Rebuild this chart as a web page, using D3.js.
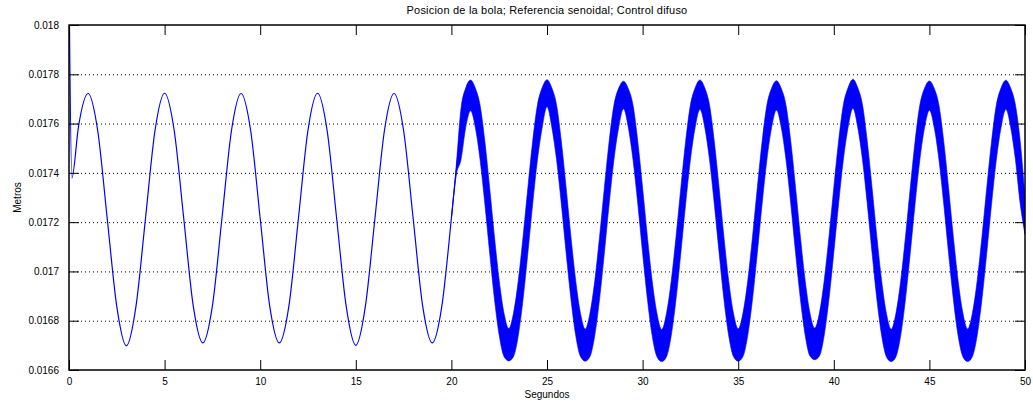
<!DOCTYPE html>
<html>
<head>
<meta charset="utf-8">
<script src="https://cdn.jsdelivr.net/npm/d3@7"></script>
<style>
body { margin: 0; background: #fff; }
svg { display: block; font-family: "Liberation Sans", Arial, sans-serif; }
</style>
</head>
<body>
<svg id="chart" width="1033" height="404"></svg>
<script>
// ----------------------------------------- Data -----------------------------------------

var xTicks = [0, 5, 10, 15, 20, 25, 30, 35, 40, 45, 50];
var yTicks = [0.0166, 0.0168, 0.017, 0.0172, 0.0174, 0.0176, 0.0178, 0.018];
var yTickLabels = ["0.0166", "0.0168", "0.017", "0.0172", "0.0174", "0.0176", "0.0178", "0.018"];

// clean part of the response (0 - 20.5 s)
var cleanTime = [0, 0.15, 0.5, 1, 1.5, 2, 2.5, 3, 3.5, 4, 4.5, 5, 5.5, 6, 6.5, 7, 7.5, 8, 8.5, 9, 9.5,
    10, 10.5, 11, 11.5, 12, 12.5, 13, 13.5, 14, 14.5, 15, 15.5, 16, 16.5, 17, 17.5, 18, 18.5, 19, 19.5, 20, 20.25, 20.5];
var cleanPos = [0.01820, 0.017380, 0.017590, 0.017722, 0.017572, 0.017214, 0.016857, 0.016698, 0.016857, 0.017215,
    0.017573, 0.017723, 0.017573, 0.017216, 0.016859, 0.016710, 0.016860, 0.017216, 0.017573, 0.017722,
    0.017572, 0.017215, 0.016858, 0.016710, 0.016859, 0.017216, 0.017574, 0.017723, 0.017572, 0.017214,
    0.016857, 0.016700, 0.016858, 0.017215, 0.017573, 0.017722, 0.017572, 0.017215, 0.016858, 0.016710,
    0.016859, 0.017216, 0.017410, 0.017570];

// noisy part (20 - 50 s): upper and lower edge of the thick band
var bandTime = [20, 20.25, 20.5, 20.75,
    21, 21.25, 21.5, 21.75, 22, 22.25, 22.5, 22.75, 23, 23.25, 23.5, 23.75, 24, 24.25, 24.5, 24.75,
    25, 25.25, 25.5, 25.75, 26, 26.25, 26.5, 26.75, 27, 27.25, 27.5, 27.75, 28, 28.25, 28.5, 28.75,
    29, 29.25, 29.5, 29.75, 30, 30.25, 30.5, 30.75, 31, 31.25, 31.5, 31.75, 32, 32.25, 32.5, 32.75,
    33, 33.25, 33.5, 33.75, 34, 34.25, 34.5, 34.75, 35, 35.25, 35.5, 35.75, 36, 36.25, 36.5, 36.75,
    37, 37.25, 37.5, 37.75, 38, 38.25, 38.5, 38.75, 39, 39.25, 39.5, 39.75, 40, 40.25, 40.5, 40.75,
    41, 41.25, 41.5, 41.75, 42, 42.25, 42.5, 42.75, 43, 43.25, 43.5, 43.75, 44, 44.25, 44.5, 44.75,
    45, 45.25, 45.5, 45.75, 46, 46.25, 46.5, 46.75, 47, 47.25, 47.5, 47.75, 48, 48.25, 48.5, 48.75,
    49, 49.25, 49.5, 49.75, 50];
var bandUpper = [0.017216, 0.017425, 0.017660, 0.017745,
    0.017777, 0.017744, 0.017674, 0.017527, 0.017340, 0.017142, 0.016963, 0.016831, 0.016768, 0.016832, 0.016964, 0.017143, 0.017341, 0.017528, 0.017676, 0.017746,
    0.017778, 0.017745, 0.017675, 0.017527, 0.017340, 0.017142, 0.016963, 0.016830, 0.016766, 0.016831, 0.016963, 0.017142, 0.017340, 0.017527, 0.017675, 0.017744,
    0.017772, 0.017742, 0.017674, 0.017526, 0.017339, 0.017141, 0.016962, 0.016830, 0.016764, 0.016830, 0.016963, 0.017142, 0.017340, 0.017527, 0.017675, 0.017745,
    0.017777, 0.017745, 0.017675, 0.017527, 0.017340, 0.017142, 0.016963, 0.016831, 0.016767, 0.016831, 0.016963, 0.017142, 0.017340, 0.017527, 0.017675, 0.017744,
    0.017774, 0.017743, 0.017674, 0.017527, 0.017340, 0.017142, 0.016964, 0.016832, 0.016770, 0.016832, 0.016964, 0.017143, 0.017341, 0.017528, 0.017676, 0.017746,
    0.017780, 0.017746, 0.017676, 0.017527, 0.017340, 0.017142, 0.016963, 0.016830, 0.016765, 0.016830, 0.016963, 0.017142, 0.017340, 0.017527, 0.017675, 0.017744,
    0.017773, 0.017743, 0.017674, 0.017527, 0.017340, 0.017142, 0.016963, 0.016831, 0.016766, 0.016831, 0.016963, 0.017142, 0.017340, 0.017527, 0.017675, 0.017745,
    0.017776, 0.017744, 0.017675, 0.017527, 0.017300];
var bandLower = [0.017216, 0.017390, 0.017453, 0.017585,
    0.017652, 0.017585, 0.017453, 0.017274, 0.017076, 0.016889, 0.016741, 0.016655, 0.016637, 0.016655, 0.016741, 0.016889, 0.017076, 0.017274, 0.017453, 0.017585,
    0.017668, 0.017586, 0.017453, 0.017274, 0.017076, 0.016889, 0.016741, 0.016655, 0.016636, 0.016655, 0.016741, 0.016889, 0.017076, 0.017274, 0.017453, 0.017585,
    0.017660, 0.017585, 0.017452, 0.017273, 0.017075, 0.016888, 0.016740, 0.016654, 0.016634, 0.016654, 0.016741, 0.016889, 0.017076, 0.017274, 0.017453, 0.017585,
    0.017658, 0.017585, 0.017453, 0.017274, 0.017076, 0.016889, 0.016741, 0.016655, 0.016636, 0.016655, 0.016741, 0.016889, 0.017076, 0.017274, 0.017453, 0.017585,
    0.017655, 0.017585, 0.017453, 0.017274, 0.017076, 0.016890, 0.016742, 0.016657, 0.016642, 0.016657, 0.016742, 0.016890, 0.017077, 0.017275, 0.017454, 0.017586,
    0.017662, 0.017585, 0.017453, 0.017274, 0.017076, 0.016889, 0.016741, 0.016654, 0.016634, 0.016654, 0.016741, 0.016889, 0.017076, 0.017274, 0.017453, 0.017585,
    0.017654, 0.017585, 0.017453, 0.017274, 0.017076, 0.016889, 0.016740, 0.016654, 0.016634, 0.016655, 0.016741, 0.016889, 0.017076, 0.017274, 0.017453, 0.017585,
    0.017658, 0.017585, 0.017453, 0.017274, 0.017150];

// ----------------------------------------- Layout -----------------------------------------

var width = 1033;
var height = 404;
var margin = {left: 69, right: 8, top: 25, bottom: 34};

var svg = d3.select('#chart');

var x = d3.scaleLinear()
    .domain([0, 50])
    .range([margin.left, width - margin.right]);

var y = d3.scaleLinear()
    .domain([0.0166, 0.018])
    .range([height - margin.bottom, margin.top]);

var x0 = x.range()[0], x1 = x.range()[1];
var y0 = y.range()[1], y1 = y.range()[0];

svg.append('clipPath')
    .attr('id', 'plotClip')
  .append('rect')
    .attr('x', x0)
    .attr('y', y0)
    .attr('width', x1 - x0)
    .attr('height', y1 - y0);

// dotted horizontal grid
svg.append('g')
    .selectAll('line')
    .data(yTicks.slice(1, -1))
    .enter()
    .append('line')
        .attr('x1', x0)
        .attr('x2', x1)
        .attr('y1', d => y(d) + 0.5)
        .attr('y2', d => y(d) + 0.5)
        .attr('stroke', '#000')
        .attr('stroke-width', 1)
        .attr('stroke-dasharray', '1,3');

// ----------------------------------------- Series -----------------------------------------

var cleanData = cleanTime.map((t, i) => ({t: t, v: cleanPos[i]}));
var bandData = bandTime.map((t, i) => ({t: t, hi: bandUpper[i], lo: bandLower[i]}));

var plot = svg.append('g').attr('clip-path', 'url(#plotClip)');

var line = d3.line()
    .x(d => x(d.t))
    .y(d => y(d.v))
    .curve(d3.curveMonotoneX);

plot.append('path')
    .datum(cleanData)
    .attr('d', line)
    .attr('fill', 'none')
    .attr('stroke', '#0000ff')
    .attr('stroke-width', 1.2);

var area = d3.area()
    .x(d => x(d.t))
    .y0(d => y(d.lo))
    .y1(d => y(d.hi))
    .curve(d3.curveMonotoneX);

plot.append('path')
    .datum(bandData)
    .attr('d', area)
    .attr('fill', '#0000ff')
    .attr('stroke', '#0000ff')
    .attr('stroke-width', 0.6);

// ----------------------------------------- Axes (ticks inside, MATLAB style) -----------------------------------------

var axisStyle = function(g){
    g.select('.domain').remove();
    g.selectAll('line').attr('stroke', '#000');
    g.selectAll('text').attr('fill', '#000').style('font-size', '10px');
};

svg.append('g')
    .attr('transform', `translate(0, ${y1})`)
    .call(d3.axisBottom(x).tickValues(xTicks).tickSize(-10).tickPadding(8).tickFormat(d3.format('d')))
    .call(axisStyle);

svg.append('g')
    .attr('transform', `translate(0, ${y0})`)
    .call(d3.axisTop(x).tickValues(xTicks).tickSize(-10).tickFormat(''))
    .call(axisStyle);

svg.append('g')
    .attr('transform', `translate(${x0}, 0)`)
    .call(d3.axisLeft(y).tickValues(yTicks).tickSize(-10).tickPadding(10).tickFormat((d, i) => yTickLabels[i]))
    .call(axisStyle);

svg.append('g')
    .attr('transform', `translate(${x1}, 0)`)
    .call(d3.axisRight(y).tickValues(yTicks).tickSize(-10).tickFormat(''))
    .call(axisStyle);

// box
svg.append('rect')
    .attr('x', x0)
    .attr('y', y0)
    .attr('width', x1 - x0)
    .attr('height', y1 - y0)
    .attr('fill', 'none')
    .attr('stroke', '#000')
    .attr('stroke-width', 1.5);

// ----------------------------------------- Labels -----------------------------------------

svg.append('text')
    .text('Posicion de la bola; Referencia senoidal; Control difuso')
    .attr('x', (x0 + x1) / 2)
    .attr('y', 14)
    .attr('text-anchor', 'middle')
    .style('font-size', '11px')
    .style('letter-spacing', '0.2px');

svg.append('text')
    .text('Segundos')
    .attr('x', (x0 + x1) / 2)
    .attr('y', 398)
    .attr('text-anchor', 'middle')
    .style('font-size', '10px');

svg.append('text')
    .text('Metros')
    .attr('transform', `translate(21, ${(y0 + y1) / 2}) rotate(-90)`)
    .attr('text-anchor', 'middle')
    .style('font-size', '10px');
</script>
</body>
</html>
